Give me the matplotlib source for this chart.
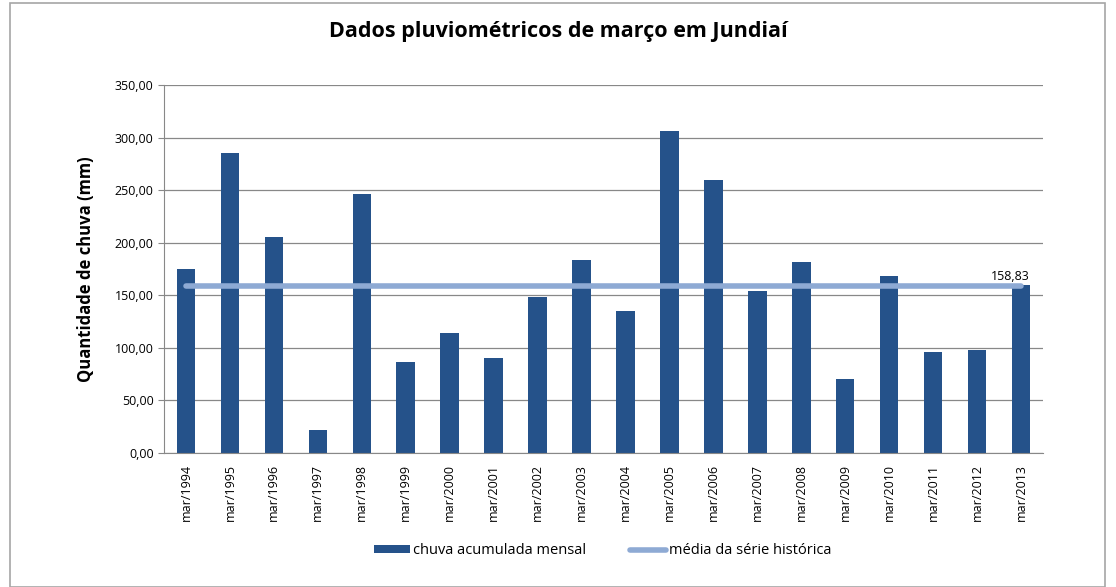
import numpy as np
import matplotlib.pyplot as plt
from matplotlib.patches import Rectangle

plt.rcParams['font.family'] = ['Open Sans', 'DejaVu Sans']

anos = list(range(1994, 2014))
rotulos = ['mar/%d' % a for a in anos]
chuva = [175.0, 285.3, 205.5, 21.9, 246.3, 86.5, 114.1, 90.4, 148.4, 183.6,
         135.0, 306.3, 259.6, 154.0, 181.7, 70.4, 168.3, 96.0, 98.0, 159.8]
media = 158.83

fig = plt.figure(figsize=(11.16, 5.87), dpi=100)
ax = fig.add_axes([164 / 1116, 1 - 453 / 587, (1043 - 164) / 1116, (453 - 85) / 587])

# moldura do grafico
fig.patches.append(Rectangle((10 / 1116, 0), 1095 / 1116, 1 - 3 / 587,
                             transform=fig.transFigure, fill=False,
                             edgecolor='#a6a6a6', linewidth=1.2))

x = np.arange(len(anos))
barras = ax.bar(x, chuva, width=0.42, color='#25528a', label='chuva acumulada mensal', zorder=2)
linha, = ax.plot([x[0], x[-1]], [media, media], color='#8eaad4', linewidth=4,
                 solid_capstyle='round', label='média da série histórica', zorder=3)
ax.text(x[-1] + 0.2, media + 3, '158,83', ha='right', va='bottom', fontsize=9)

ax.set_xlim(-0.5, len(anos) - 0.5)
ax.set_ylim(0, 350)
ax.set_yticks(np.arange(0, 351, 50))
ax.set_yticklabels(['%d,00' % v for v in range(0, 351, 50)], fontsize=9)
ax.set_xticks(x)
ax.set_xticklabels(rotulos, rotation=90, fontsize=9)
ax.tick_params(axis='x', length=0, pad=8)
ax.tick_params(axis='y', length=4, color='#888888')
ax.grid(axis='y', color='#888888', linewidth=0.9, zorder=0)
for s in ['top', 'right']:
    ax.spines[s].set_visible(False)
for s in ['left', 'bottom']:
    ax.spines[s].set_color('#888888')

ax.set_ylabel('Quantidade de chuva (mm)', fontsize=12, fontweight='bold', labelpad=14)
fig.text(0.5, 1 - 32 / 587, 'Dados pluviométricos de março em Jundiaí',
         ha='center', va='center', fontsize=15.5, fontweight='bold')

fig.legend(handles=[barras, linha], loc='center', bbox_to_anchor=(0.54, 1 - 551 / 587),
           ncol=2, frameon=False, fontsize=10.5, handlelength=2.5, handleheight=0.5,
           columnspacing=3, handletextpad=0.2)

fig.savefig('out.png', dpi=100)
